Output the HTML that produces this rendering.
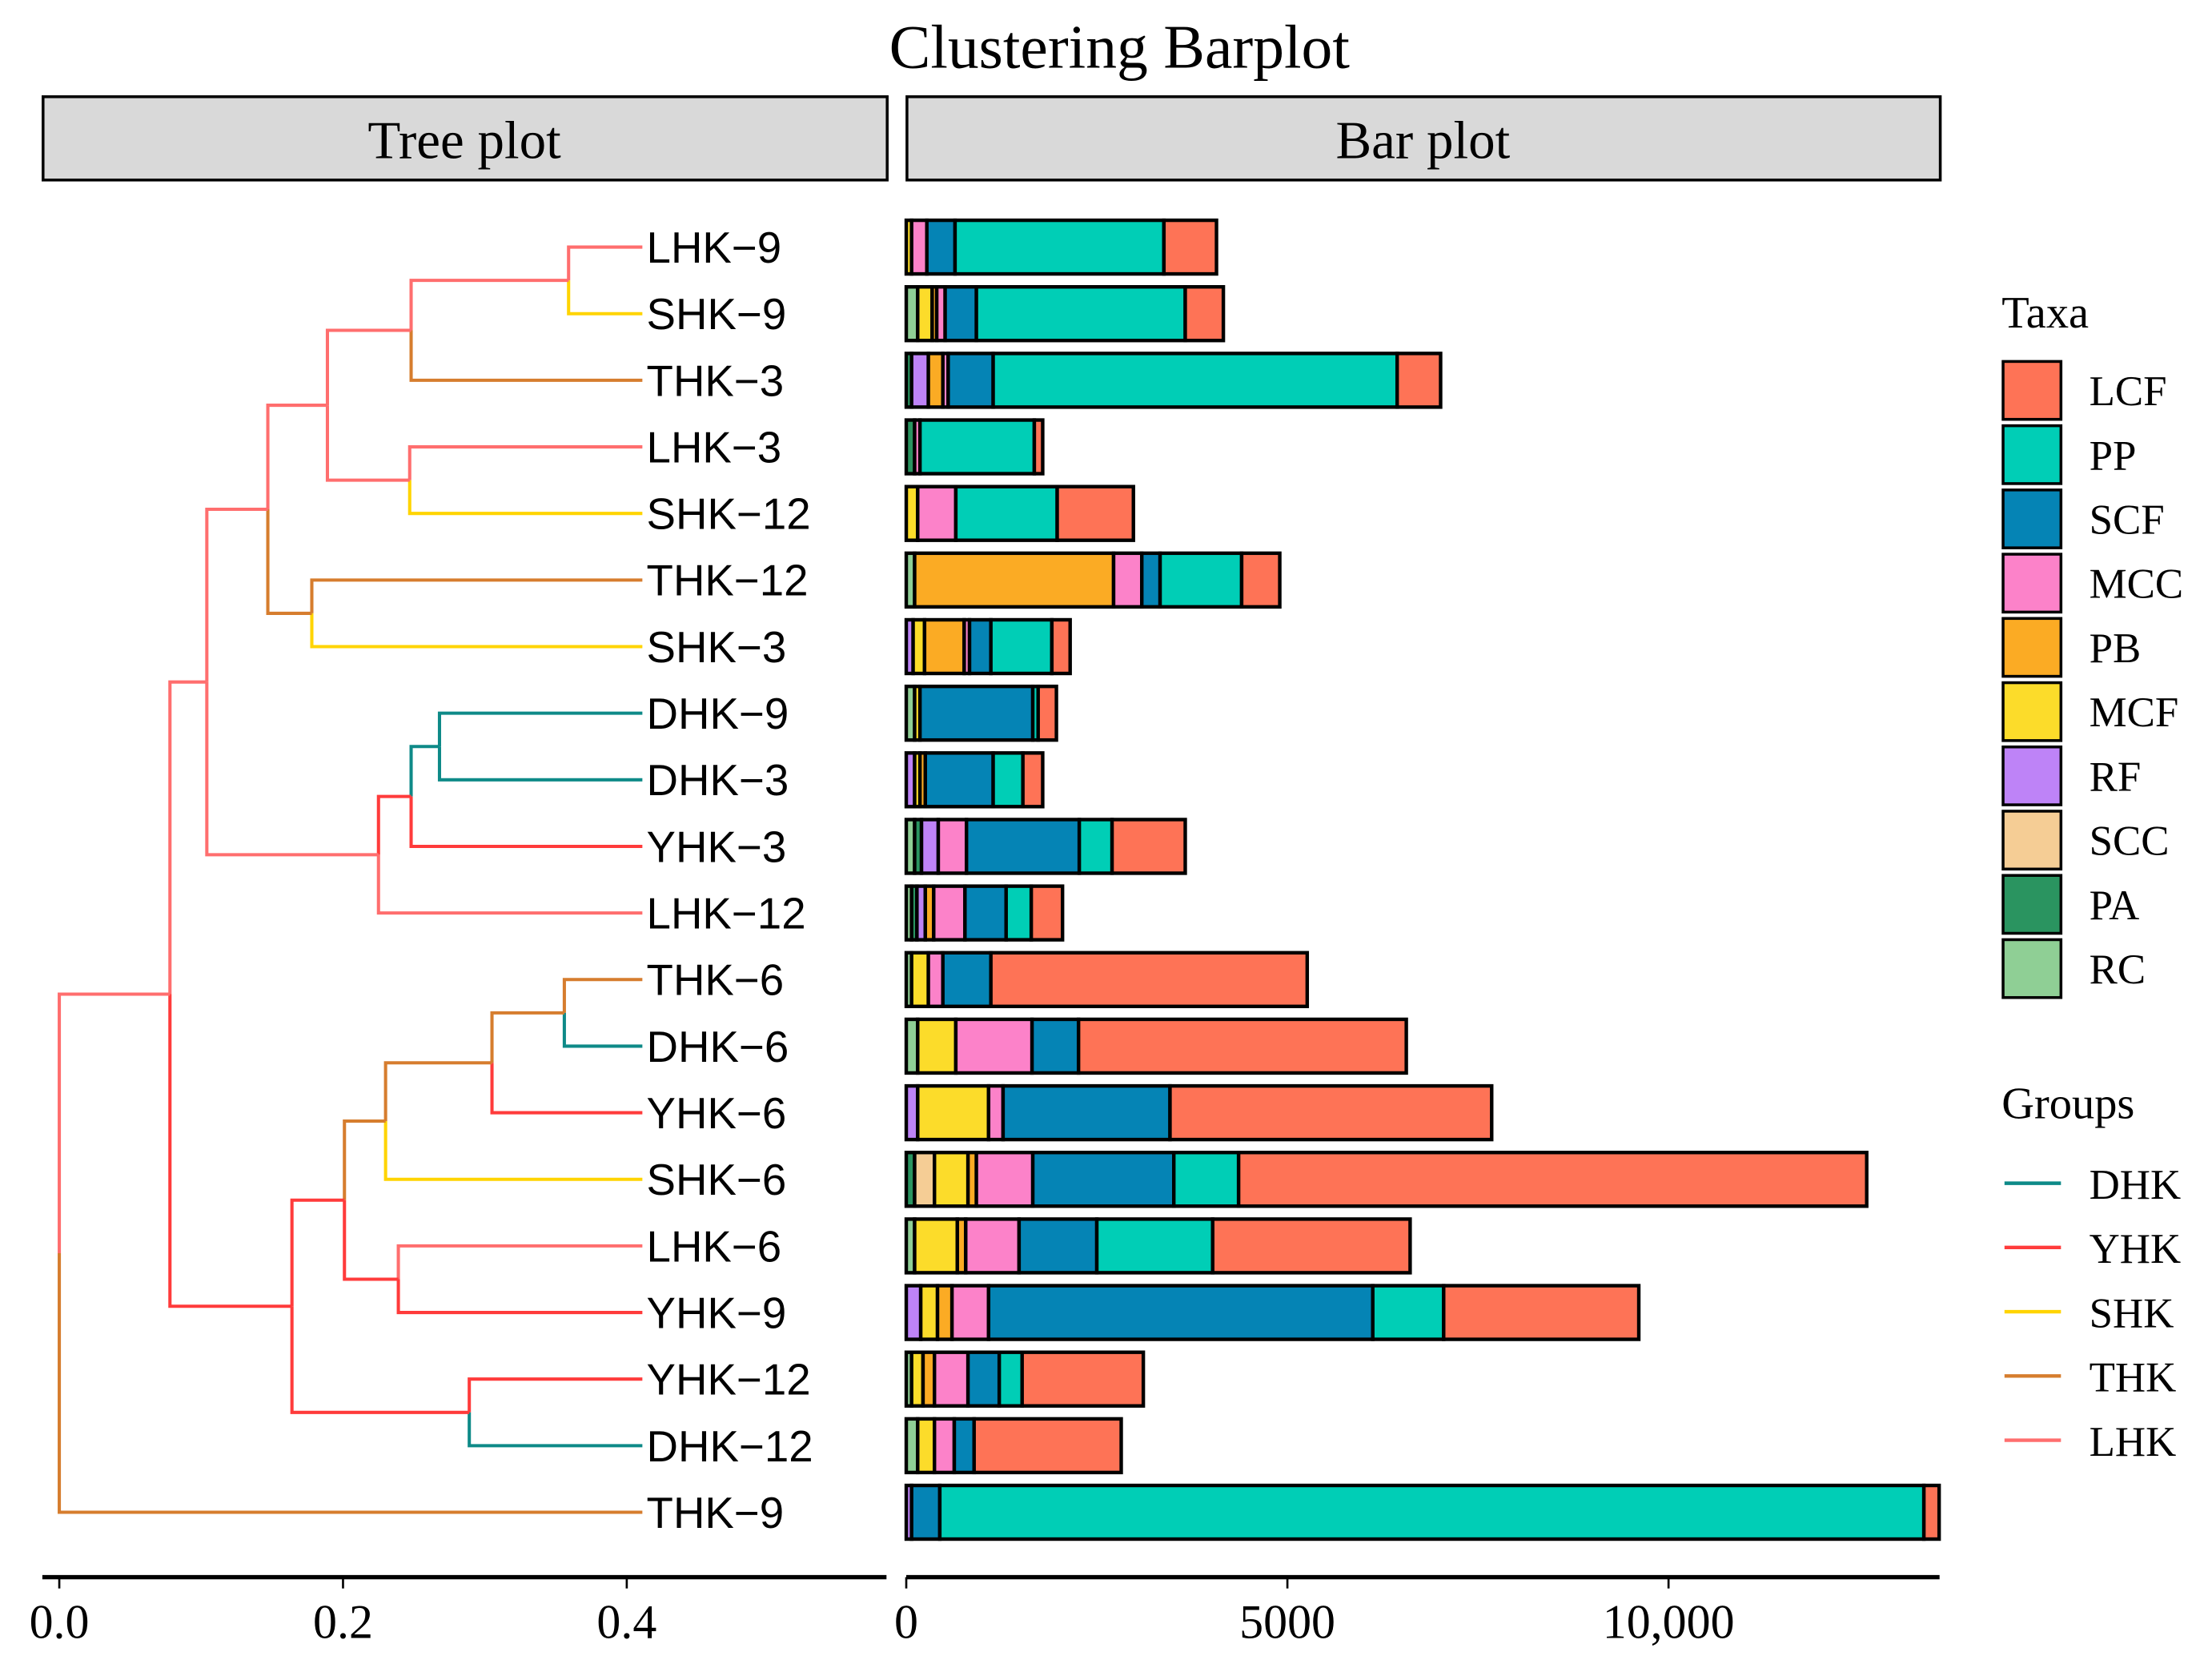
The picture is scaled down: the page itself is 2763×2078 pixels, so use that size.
<!DOCTYPE html>
<html><head><meta charset="utf-8"><style>html,body{margin:0;padding:0;background:#fff}svg{display:block}</style></head>
<body>
<svg id="chart" width="2763" height="2078" viewBox="0 0 1567 1178.5" preserveAspectRatio="none" xmlns="http://www.w3.org/2000/svg">
<text x="793" y="48" text-anchor="middle" font-family="Liberation Serif, serif" font-size="44">Clustering Barplot</text>
<rect x="30.5" y="68.5" width="598" height="59" fill="#d9d9d9" stroke="#000" stroke-width="2"/>
<text x="329" y="112" text-anchor="middle" font-family="Liberation Serif, serif" font-size="38">Tree plot</text>
<rect x="642.5" y="68.5" width="732" height="59" fill="#d9d9d9" stroke="#000" stroke-width="2"/>
<text x="1008" y="112" text-anchor="middle" font-family="Liberation Serif, serif" font-size="38">Bar plot</text>
<g id="tree"></g><g id="bars"></g><g id="axes"></g><g id="legend"></g>
</svg>
<script>
const samples = ["LHK-9","SHK-9","THK-3","LHK-3","SHK-12","THK-12","SHK-3","DHK-9","DHK-3","YHK-3","LHK-12","THK-6","DHK-6","YHK-6","SHK-6","LHK-6","YHK-9","YHK-12","DHK-12","THK-9"];
const taxa = ["RC","PA","SCC","RF","MCF","PB","MCC","SCF","PP","LCF"];
const RC  = [0,150,0,0,0,110,0,110,0,110,70,70,150,0,0,110,0,70,150,0];
const PA  = [0,0,70,110,0,0,0,0,0,90,70,0,0,0,110,0,0,0,0,0];
const SCC = [0,0,0,0,0,0,0,0,0,0,0,0,0,0,260,0,0,0,0,0];
const RF  = [0,0,220,0,0,0,90,0,110,220,110,0,0,150,0,0,190,0,0,70];
const MCF = [70,190,0,0,150,0,150,70,70,0,0,220,500,930,440,560,220,150,220,0];
const PB  = [0,60,190,0,0,2610,520,0,70,0,110,0,0,0,110,110,190,150,0,0];
const MCC = [200,110,70,70,500,370,70,0,0,370,410,190,1000,190,740,700,480,440,260,0];
const SCF = [370,410,590,0,0,240,280,1480,890,1480,540,630,610,2190,1850,1020,5040,410,260,370];
const PP  = [2740,2740,5300,1500,1330,1070,800,70,390,430,330,0,0,0,850,1520,930,300,0,12910];
const LCF = [690,500,570,110,1000,500,240,240,260,960,410,4150,4300,4220,8240,2590,2560,1590,1930,200];
const barTicks = [0,5000,10000];
const barTickLabels = ["0","5000","10,000"];
const treeTicks = [0,0.2,0.4];
const treeTickLabels = ["0.0","0.2","0.4"];
const groups = ["DHK","YHK","SHK","THK","LHK"];
const legendTaxa = ["LCF","PP","SCF","MCC","PB","MCF","RF","SCC","PA","RC"];
// dendrogram: nodes [name, height, left, right, colorGroup]
const leafHeight = 0.411;
const nodes = [
 ["A",0.359,"LHK-9","SHK-9","LHK"],["B",0.248,"A","THK-3","LHK"],["C",0.247,"LHK-3","SHK-12","LHK"],
 ["D",0.189,"B","C","LHK"],["E",0.178,"THK-12","SHK-3","THK"],["F",0.147,"D","E","LHK"],
 ["G",0.268,"DHK-9","DHK-3","DHK"],["H",0.248,"G","YHK-3","YHK"],["I",0.225,"H","LHK-12","LHK"],
 ["J",0.104,"F","I","LHK"],["K",0.356,"THK-6","DHK-6","THK"],["L",0.305,"K","YHK-6","THK"],
 ["M",0.230,"L","SHK-6","THK"],["N",0.239,"LHK-6","YHK-9","YHK"],["O",0.201,"M","N","YHK"],
 ["P",0.289,"YHK-12","DHK-12","YHK"],["Q",0.164,"O","P","YHK"],["R",0.078,"J","Q","LHK"],
 ["ROOT",0,"R","THK-9","LHK"]
];
const taxaColors = {RC:"#8fcf95",PA:"#2a9460",SCC:"#f5cd95",RF:"#be83f7",MCF:"#fcdc2a",PB:"#fbab24",MCC:"#fc82c9",SCF:"#0584b5",PP:"#00ceb6",LCF:"#fe7356"};
const groupColors = {DHK:"#0e8a88",YHK:"#ff3b3b",SHK:"#ffd400",THK:"#d67d2e",LHK:"#ff6e6e"};
const NS="http://www.w3.org/2000/svg";
function mk(tag,attrs,parent){const e=document.createElementNS(NS,tag);for(const k in attrs)e.setAttribute(k,attrs[k]);parent.appendChild(e);return e;}
const bx = v => 642 + v*0.054;
const tx = d => 42 + d*1005;
const rowY = i => 175 + i*47.16;
const series = {RC,PA,SCC,RF,MCF,PB,MCC,SCF,PP,LCF};
const gB=document.getElementById('bars');
samples.forEach((s,i)=>{
  let acc=0;const y=rowY(i)-19;
  const row=mk('g',{},gB);
  
  
  taxa.forEach(t=>{
    const v=series[t][i]; if(!v) return;
    const r=mk('rect',{x:bx(acc),y:y,width:bx(acc+v)-bx(acc),height:38,fill:taxaColors[t],stroke:'#000','stroke-width':2.5},row);
    
    
    acc+=v;
  });
});
// tree
const gT=document.getElementById('tree');
const pos={};
samples.forEach((s,i)=>{pos[s]={h:leafHeight,y:rowY(i),c:s.split('-')[0]};});
nodes.forEach(n=>{
  const [nm,h,l,r,c]=n;
  const a=pos[l],b=pos[r];
  [a,b].forEach((ch,k)=>{
    const col=groupColors[ch.c];
    const yMid=(a.y+b.y)/2;
    const p=mk('path',{d:`M${tx(h)},${yMid}V${ch.y}H${tx(ch.h)}`,fill:'none',stroke:col,'stroke-width':2.3},gT);
    
    
  });
  pos[nm]={h:h,y:(a.y+b.y)/2,c:c};
});
samples.forEach((s,i)=>{
  const t=mk('text',{x:458,y:rowY(i)+11,'font-family':'Liberation Sans, sans-serif','font-size':31},gT);
  t.textContent=s.replace('-','\u2212');
  
  
});
// axes
const gA=document.getElementById('axes');
let l1=mk('line',{x1:30,x2:628,y1:1117,y2:1117,stroke:'#000','stroke-width':3},gA);


let l2=mk('line',{x1:642,x2:1374,y1:1117,y2:1117,stroke:'#000','stroke-width':3},gA);


treeTicks.forEach((v,k)=>{
  mk('line',{x1:tx(v),x2:tx(v),y1:1117,y2:1125,stroke:'#000','stroke-width':1.5},gA);
  const t=mk('text',{x:tx(v),y:1160,'text-anchor':'middle','font-family':'Liberation Serif, serif','font-size':34},gA);
  t.textContent=treeTickLabels[k];
  
  
});
barTicks.forEach((v,k)=>{
  mk('line',{x1:bx(v),x2:bx(v),y1:1117,y2:1125,stroke:'#000','stroke-width':1.5},gA);
  const t=mk('text',{x:bx(v),y:1160,'text-anchor':'middle','font-family':'Liberation Serif, serif','font-size':34},gA);
  t.textContent=barTickLabels[k];
  
  
});
// legend
const gL=document.getElementById('legend');
let tt=mk('text',{x:1418,y:232,'font-family':'Liberation Serif, serif','font-size':32},gL);
tt.textContent='Taxa';


legendTaxa.forEach((t,k)=>{
  const y=256+k*45.5;
  const r=mk('rect',{x:1419,y:y,width:41,height:41,fill:taxaColors[t],stroke:'#000','stroke-width':2},gL);
  
  
  const tx2=mk('text',{x:1480,y:y+31,'font-family':'Liberation Serif, serif','font-size':30},gL);
  tx2.textContent=t;
  
  
});
let gt=mk('text',{x:1418,y:792,'font-family':'Liberation Serif, serif','font-size':32},gL);
gt.textContent='Groups';


groups.forEach((g,k)=>{
  const y=838+k*45.5;
  const l=mk('line',{x1:1420,x2:1460,y1:y,y2:y,stroke:groupColors[g],'stroke-width':2.5},gL);
  
  
  const t=mk('text',{x:1480,y:y+11,'font-family':'Liberation Serif, serif','font-size':30},gL);
  t.textContent=g;
  
  
});
</script>
</body></html>
